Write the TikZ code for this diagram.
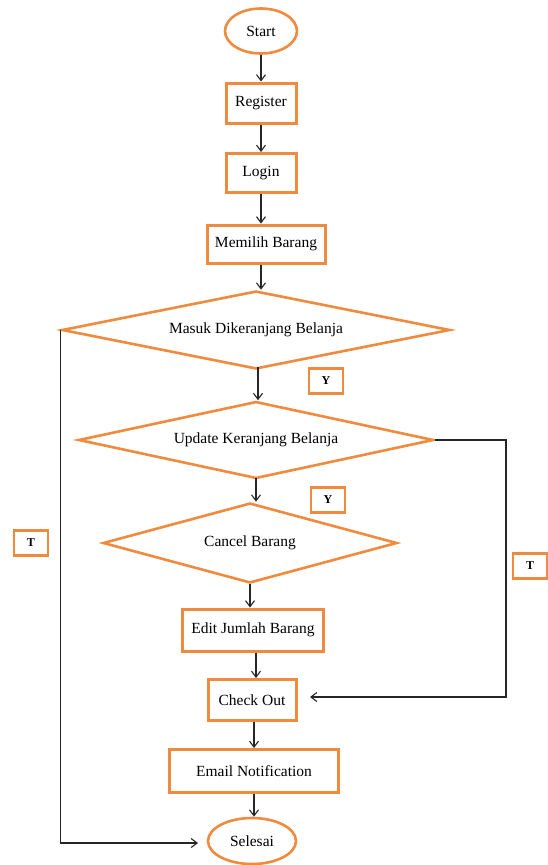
\documentclass[tikz,border=0pt]{standalone}
\usepackage{fontspec}
\setmainfont{Liberation Serif}
\usetikzlibrary{shapes.geometric,arrows.meta}
\definecolor{boxorange}{RGB}{240,138,62}
\begin{document}
\begin{tikzpicture}[x=1pt,y=-1pt,
  every node/.style={font=\fontsize{15.5}{18}\selectfont, inner sep=0pt},
  procbox/.style={draw=boxorange, line width=3pt, rectangle},
  term/.style={draw=boxorange, line width=2.6pt, ellipse},
  decide/.style={draw=boxorange, line width=2.6pt, diamond, aspect=5},
  tag/.style={draw=boxorange, line width=2.6pt, rectangle, minimum width=34pt, minimum height=25pt, font=\fontsize{12}{14}\selectfont\bfseries},
  arr/.style={draw=black!85, line width=1.1pt, -{Straight Barb[length=6pt,width=9pt]}}]
\useasboundingbox[fill=white] (0,0) rectangle (548,865);

% terminals and process steps
\node[term, minimum width=72pt, minimum height=45pt] (start) at (261,31) {Start};
\node[procbox, minimum width=70pt, minimum height=40pt] (reg) at (261,103) {Register};
\node[procbox, minimum width=70pt, minimum height=39pt] (login) at (261,173) {Login};
\node[procbox, minimum width=118pt, minimum height=38pt] (pick) at (266,244) {Memilih Barang};

% decisions
\node[decide, minimum width=388pt, minimum height=78pt] (cart) at (256,330) {Masuk Dikeranjang Belanja};
\node[decide, minimum width=355pt, minimum height=77pt] (upd) at (256,440) {Update Keranjang Belanja};
\node[decide, minimum width=294pt, minimum height=80pt] (cancel) at (250,543) {Cancel Barang};

% remaining steps
\node[procbox, minimum width=141pt, minimum height=42pt] (edit) at (253,630) {Edit Jumlah Barang};
\node[procbox, minimum width=88pt, minimum height=41pt] (check) at (252,700) {Check Out};
\node[procbox, minimum width=169pt, minimum height=43pt] (mail) at (254,771) {Email Notification};
\node[term, minimum width=88pt, minimum height=46pt] (end) at (252,841) {Selesai};

% branch tags
\node[tag] (y1) at (326,381) {Y};
\node[tag] (y2) at (328,500) {Y};
\node[tag] (t1) at (31,543) {T};
\node[tag] (t2) at (530,566) {T};

% free ends of the side connectors
\coordinate (rturn) at (506,697);
\coordinate (checkin) at (310,697);
\coordinate (endin) at (198,843);

% main flow
\draw[arr] (start.south) -- (start.south |- reg.north);
\draw[arr] (reg.south) -- (reg.south |- login.north);
\draw[arr] (login.south) -- (login.south |- pick.north);
\draw[arr] ([xshift=-5pt]pick.south) -- ([xshift=-5pt]pick.south |- cart.north);
\draw[arr] ([xshift=2pt,yshift=3pt]cart.south) -- ([xshift=2pt]cart.south |- upd.north);
\draw[arr] ([yshift=2pt]upd.south) -- (upd.south |- cancel.north);
\draw[arr] (cancel.south) -- (cancel.south |- edit.north);
\draw[arr] ([xshift=3pt]edit.south) -- ([xshift=3pt]edit.south |- check.north);
\draw[arr] ([xshift=2pt]check.south) -- ([xshift=2pt]check.south |- mail.north);
\draw[arr] (mail.south) -- (mail.south |- end.north);

% side branches
\draw[arr] (upd.east) -| (rturn) -- (checkin);
\draw[arr] (cart.west) |- (endin);
\end{tikzpicture}
\end{document}
